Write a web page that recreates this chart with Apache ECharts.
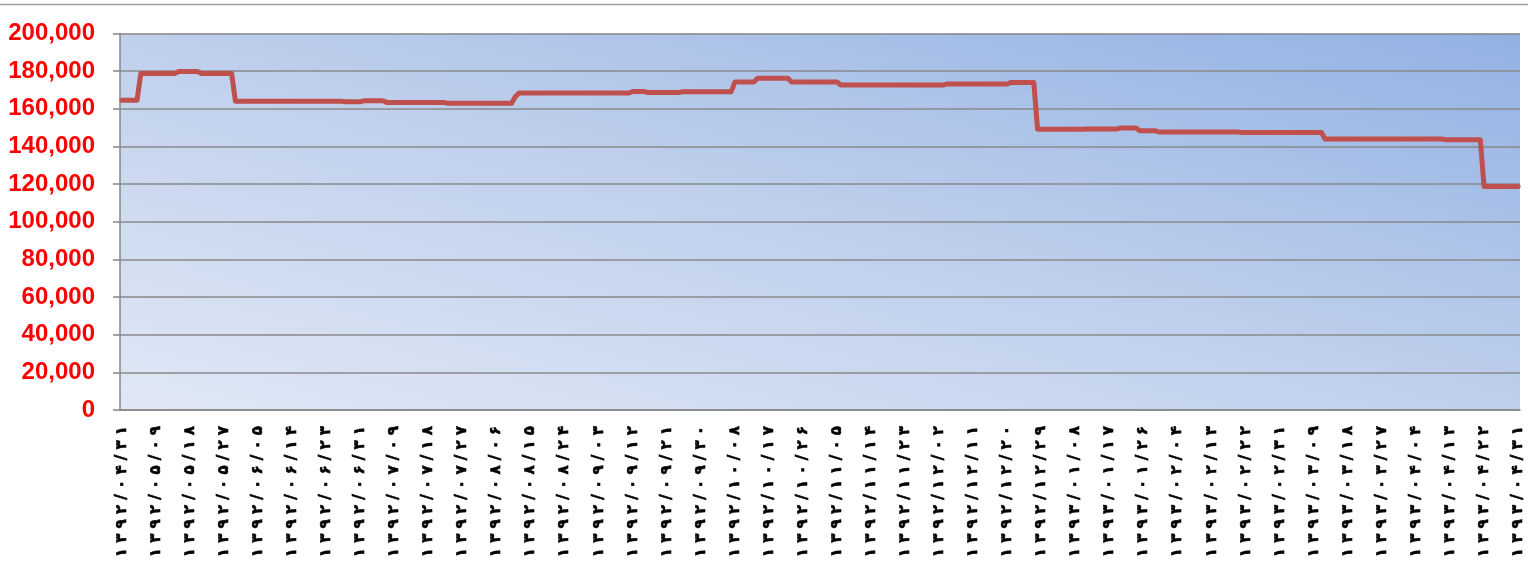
<!DOCTYPE html>
<html>
<head>
<meta charset="utf-8">
<script src="https://cdn.jsdelivr.net/npm/echarts@6/dist/echarts.min.js"></script>
<style>
  html, body { margin: 0; padding: 0; background: #fff; }
  #echarts-line { width: 1528px; height: 564px; }
</style>
</head>
<body>
<div id="echarts-line"></div>
<script>
// labels shown under the axis, one every 9 days
const shownDates = [
  '۱۳۹۲/۰۴/۳۱', '۱۳۹۲/۰۵/۰۹', '۱۳۹۲/۰۵/۱۸', '۱۳۹۲/۰۵/۲۷', '۱۳۹۲/۰۶/۰۵', '۱۳۹۲/۰۶/۱۴',
  '۱۳۹۲/۰۶/۲۳', '۱۳۹۲/۰۶/۳۱', '۱۳۹۲/۰۷/۰۹', '۱۳۹۲/۰۷/۱۸', '۱۳۹۲/۰۷/۲۷', '۱۳۹۲/۰۸/۰۶',
  '۱۳۹۲/۰۸/۱۵', '۱۳۹۲/۰۸/۲۴', '۱۳۹۲/۰۹/۰۳', '۱۳۹۲/۰۹/۱۲', '۱۳۹۲/۰۹/۲۱', '۱۳۹۲/۰۹/۳۰',
  '۱۳۹۲/۱۰/۰۸', '۱۳۹۲/۱۰/۱۷', '۱۳۹۲/۱۰/۲۶', '۱۳۹۲/۱۱/۰۵', '۱۳۹۲/۱۱/۱۴', '۱۳۹۲/۱۱/۲۳',
  '۱۳۹۲/۱۲/۰۲', '۱۳۹۲/۱۲/۱۱', '۱۳۹۲/۱۲/۲۰', '۱۳۹۲/۱۲/۲۹', '۱۳۹۳/۰۱/۰۸', '۱۳۹۳/۰۱/۱۷',
  '۱۳۹۳/۰۱/۲۶', '۱۳۹۳/۰۲/۰۴', '۱۳۹۳/۰۲/۱۳', '۱۳۹۳/۰۲/۲۲', '۱۳۹۳/۰۲/۳۱', '۱۳۹۳/۰۳/۰۹',
  '۱۳۹۳/۰۳/۱۸', '۱۳۹۳/۰۳/۲۷', '۱۳۹۳/۰۴/۰۴', '۱۳۹۳/۰۴/۱۳', '۱۳۹۳/۰۴/۲۲', '۱۳۹۳/۰۴/۳۱'
];
const dayCount = 370;

// price is flat between changes: index where each level starts, and the level
const runStarts = [0, 5, 15, 21, 30, 59, 64, 70, 86, 104, 105, 135, 139, 148, 162, 168, 177, 190,
  218, 235, 242, 255, 264, 269, 274, 296, 318, 350, 360];
const runValues = [164500, 178800, 179800, 178800, 164000, 163700, 164300, 163400, 163000, 166500,
  168400, 169200, 168600, 169000, 174200, 176200, 174200, 172600, 173200, 174000, 149200, 149300,
  149800, 148400, 147700, 147400, 143900, 143600, 118700];

const yTicks = [0, 20000, 40000, 60000, 80000, 100000, 120000, 140000, 160000, 180000, 200000];

const categories = [];
for (let i = 0; i < dayCount; i++) {
  categories.push(i % 9 === 0 ? shownDates[i / 9] : '');
}
const prices = [];
for (let r = 0; r < runStarts.length; r++) {
  const end = r + 1 < runStarts.length ? runStarts[r + 1] : dayCount;
  for (let i = runStarts[r]; i < end; i++) prices.push(runValues[r]);
}

function createEchartsLine() {
  const myChart = echarts.init(document.getElementById('echarts-line'));
  // plot box, used for the diagonal fill (corner-to-corner like excel)
  const left = 120, top = 33.5, right = 1520, bottom = 410;
  const W = right - left, H = bottom - top, D2 = W * W + H * H;
  const option = {
    animation: false,
    graphic: [
      {
        type: 'line',
        shape: { x1: 0, y1: 4.5, x2: 1528, y2: 4.5 },
        style: { stroke: '#9c9c9c', lineWidth: 1.5 }
      }
    ],
    grid: {
      left: left,
      right: 1528 - right,
      top: top,
      bottom: 564 - bottom,
      show: true,
      borderWidth: 0,
      backgroundColor: {
        type: 'linear',
        global: true,
        x: left, y: bottom,
        x2: left + 2 * W * H * H / D2,
        y2: bottom - 2 * W * W * H / D2,
        colorStops: [
          { offset: 0, color: '#e0e8f5' },
          { offset: 0.5, color: '#bfcfec' },
          { offset: 1, color: '#92b1e3' }
        ]
      }
    },
    xAxis: {
      type: 'category',
      data: categories,
      boundaryGap: true,
      axisLine: { lineStyle: { color: '#868686', width: 1.5 } },
      axisTick: { interval: 0, length: 6, lineStyle: { color: '#868686', width: 1 } },
      axisLabel: {
        interval: 8,
        rotate: 90,
        margin: 16,
        color: '#000',
        fontFamily: 'DejaVu Sans',
        fontWeight: 'bold',
        fontSize: 15,
        textBorderColor: '#000',
        textBorderWidth: 0.6,
        formatter: function (v) {
          return v.split('').join(' ');
        }
      },
      splitLine: { show: false }
    },
    yAxis: {
      type: 'value',
      min: 0,
      max: 200000,
      interval: 20000,
      axisLine: { show: true, lineStyle: { color: '#868686', width: 1.5 } },
      axisTick: { show: true, length: 7, lineStyle: { color: '#868686', width: 1.5 } },
      axisLabel: {
        margin: 25,
        color: '#ff0000',
        fontFamily: 'Liberation Sans',
        fontWeight: 'bold',
        fontSize: 24,
        formatter: function (v) {
          return yTicks.indexOf(v) >= 0 ? v.toLocaleString('en-US') : '';
        }
      },
      splitLine: { lineStyle: { color: '#8a8a8a', width: 1.5 } }
    },
    series: [
      {
        name: 'price',
        type: 'line',
        data: prices,
        symbol: 'none',
        lineStyle: { color: '#c0504d', width: 5, cap: 'round', join: 'round' }
      }
    ]
  };
  myChart.setOption(option);
}

createEchartsLine();
</script>
</body>
</html>
